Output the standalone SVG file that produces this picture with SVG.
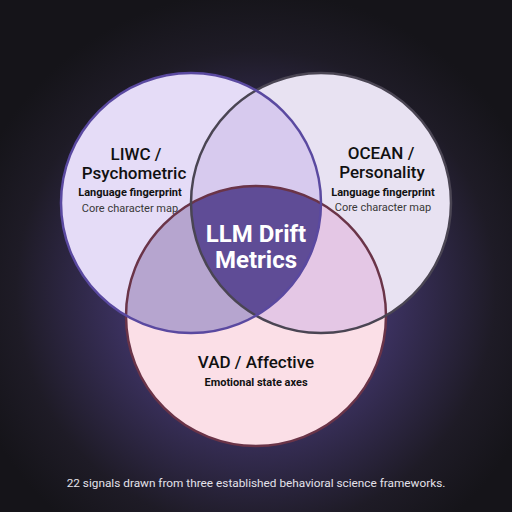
<svg xmlns="http://www.w3.org/2000/svg" width="512" height="512" viewBox="0 0 512 512">
<defs>
<radialGradient id="bg" cx="256" cy="290" r="300" gradientUnits="userSpaceOnUse">
<stop offset="0" stop-color="#5a4a92"/>
<stop offset="0.45" stop-color="#3b315f"/>
<stop offset="0.8" stop-color="#1e1b26"/>
<stop offset="1" stop-color="#151419"/>
</radialGradient>
<clipPath id="cL"><circle cx="191" cy="203" r="130"/></clipPath>
<clipPath id="cR"><circle cx="321" cy="203" r="130"/></clipPath>
<clipPath id="cB"><circle cx="256" cy="316" r="130"/></clipPath>
<style>
text{font-family:Roboto,"Noto Sans","Liberation Sans",sans-serif;text-anchor:middle}
.t{font-size:17px;font-weight:500;fill:#111}
.s{font-size:11px;font-weight:700;fill:#111}
.r{font-size:11px;font-weight:400;fill:#383838}
.c{font-size:24px;font-weight:700;fill:#fff}
.cap{font-size:11.8px;fill:#e4e2ea}
.ring{fill:none;stroke-width:2.5}
</style>
</defs>
<rect width="512" height="512" fill="url(#bg)"/>
<g id="fills">
<circle cx="191" cy="203" r="130" fill="#e5dcf7"/>
<circle cx="321" cy="203" r="130" fill="#e8e2f2"/>
<circle cx="256" cy="316" r="130" fill="#fbdfe7"/>
<circle cx="321" cy="203" r="130" fill="#d7caee" clip-path="url(#cL)"/>
<circle cx="256" cy="316" r="130" fill="#b6a5cf" clip-path="url(#cL)"/>
<circle cx="256" cy="316" r="130" fill="#e4c7e5" clip-path="url(#cR)"/>
<g clip-path="url(#cL)"><circle cx="256" cy="316" r="130" fill="#5f4c96" clip-path="url(#cR)"/></g>
</g>
<g id="connectors"></g>
<g id="vad">
<circle class="ring" cx="256" cy="316" r="130" stroke="#6a3448"/>
<text class="t" x="256" y="368">VAD / Affective</text>
<text class="s" x="256" y="386">Emotional state axes</text>
</g>
<g id="ocean">
<circle class="ring" cx="321" cy="203" r="130" stroke="#4a4553"/>
<text class="t" x="381" y="159">OCEAN /</text>
<text class="t" x="382" y="178">Personality</text>
<text class="s" x="383" y="196">Language fingerprint</text>
<text class="r" x="383" y="211">Core character map</text>
</g>
<g id="liwc">
<circle class="ring" cx="191" cy="203" r="130" stroke="#5a49a0"/>
<text class="t" x="136" y="160">LIWC /</text>
<text class="t" x="134" y="179">Psychometric</text>
<text class="s" x="130" y="196">Language fingerprint</text>
<text class="r" x="130" y="212">Core character map</text>
</g>
<g id="center">
<text class="c" x="256" y="242">LLM Drift</text>
<text class="c" x="256" y="268">Metrics</text>
</g>
<text class="cap" x="256" y="487">22 signals drawn from three established behavioral science frameworks.</text>
</svg>
